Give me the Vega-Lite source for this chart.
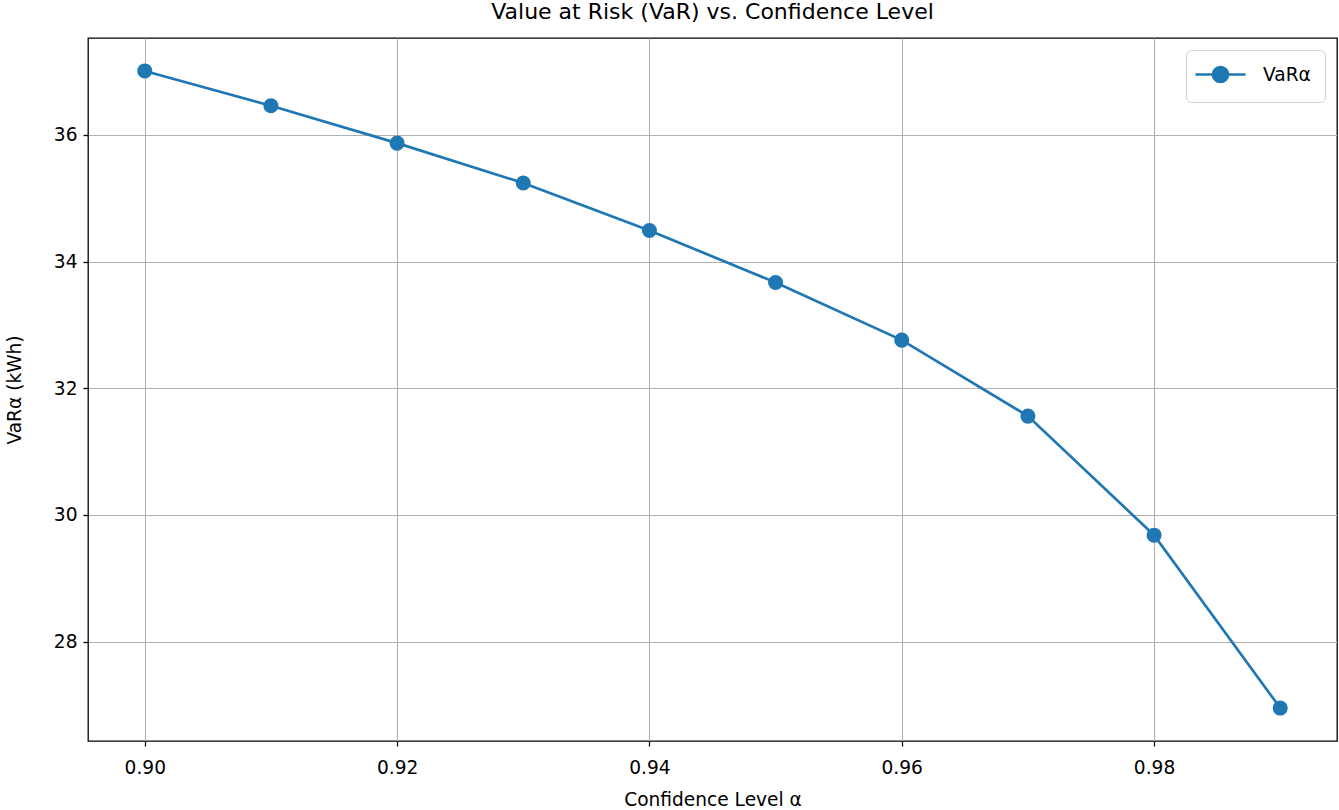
{
  "$schema": "https://vega.github.io/schema/vega-lite/v6.json",
  "autosize": "none",
  "width": 1249,
  "height": 703,
  "padding": {"left": 88, "top": 38, "right": 2, "bottom": 69},
  "title": {
    "text": "Value at Risk (VaR) vs. Confidence Level",
    "font": "DejaVu Sans",
    "fontSize": 22,
    "fontWeight": "normal",
    "color": "black",
    "anchor": "middle",
    "baseline": "alphabetic",
    "offset": 17,
    "dy": 20
  },
  "data": {
    "values": [
      {"alpha": 0.90, "var": 37.01, "series": "VaRα"},
      {"alpha": 0.91, "var": 36.46, "series": "VaRα"},
      {"alpha": 0.92, "var": 35.87, "series": "VaRα"},
      {"alpha": 0.93, "var": 35.24, "series": "VaRα"},
      {"alpha": 0.94, "var": 34.49, "series": "VaRα"},
      {"alpha": 0.95, "var": 33.67, "series": "VaRα"},
      {"alpha": 0.96, "var": 32.76, "series": "VaRα"},
      {"alpha": 0.97, "var": 31.56, "series": "VaRα"},
      {"alpha": 0.98, "var": 29.68, "series": "VaRα"},
      {"alpha": 0.99, "var": 26.95, "series": "VaRα"}
    ]
  },
  "mark": {"type": "line", "strokeWidth": 2.7, "point": {"filled": true, "size": 227, "opacity": 1}},
  "encoding": {
    "x": {
      "field": "alpha",
      "type": "quantitative",
      "scale": {"domain": [0.8955, 0.9945], "nice": false, "zero": false},
      "axis": {
        "title": "Confidence Level α",
        "values": [0.90, 0.92, 0.94, 0.96, 0.98],
        "format": ".2f"
      }
    },
    "y": {
      "field": "var",
      "type": "quantitative",
      "scale": {"domain": [26.43, 37.53], "nice": false, "zero": false},
      "axis": {
        "title": "VaRα (kWh)",
        "values": [28, 30, 32, 34, 36],
        "format": "d",
        "titlePadding": 29
      }
    },
    "color": {
      "field": "series",
      "type": "nominal",
      "scale": {"range": ["#1f77b4"]},
      "legend": {
        "title": null,
        "orient": "top-right",
        "offset": 12,
        "symbolType": "M-1.667,0L3.889,0M1.944,0A0.833,0.833,0,1,1,0.278,0A0.833,0.833,0,1,1,1.944,0Z",
        "symbolSize": 324,
        "symbolStrokeWidth": 2.7,
        "symbolFillColor": "#1f77b4",
        "symbolStrokeColor": "#1f77b4",
        "labelFont": "DejaVu Sans",
        "labelFontSize": 18.6,
        "labelColor": "black",
        "labelOffset": 42,
        "labelExpr": "datum.label + '\u2002'",
        "padding": 14,
        "strokeColor": "#d0d0d0",
        "cornerRadius": 5,
        "fillColor": "white"
      }
    }
  },
  "config": {
    "view": {"stroke": "black", "strokeWidth": 1.3},
    "axis": {
      "domain": false,
      "grid": true,
      "gridColor": "#b0b0b0",
      "gridWidth": 1.1,
      "gridOpacity": 1,
      "tickColor": "black",
      "tickSize": 5,
      "tickWidth": 1.3,
      "labelFont": "DejaVu Sans",
      "labelFontSize": 18.6,
      "labelColor": "black",
      "labelPadding": 6,
      "titleFont": "DejaVu Sans",
      "titleFontSize": 18.6,
      "titleFontWeight": "normal",
      "titleColor": "black"
    },
    "axisX": {"labelPadding": 12, "titlePadding": 14}
  }
}
